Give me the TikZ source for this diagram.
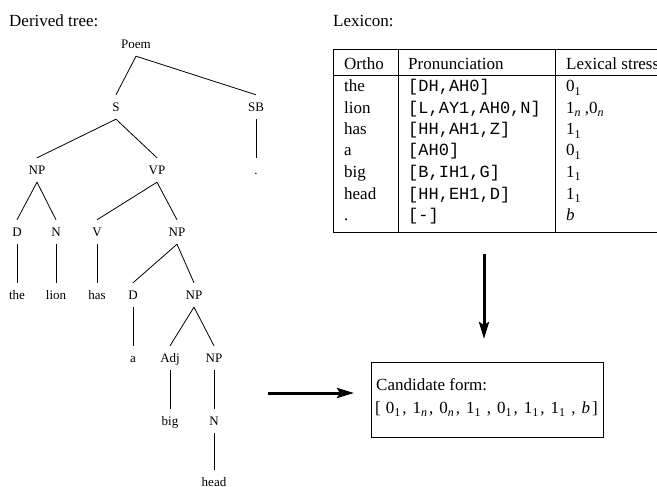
\documentclass[tikz,border=0pt]{standalone}
\usepackage{fontspec}
\setmainfont{Liberation Serif}
\setmonofont{Liberation Mono}
\usetikzlibrary{arrows.meta}
% lowered subscript in the text font
\newcommand\lowsub[1]{\raisebox{-3.5pt}{\fontsize{12}{12}\selectfont #1}}
% item separator in the candidate list
\newcommand\csep{,\hspace{6pt}}
\begin{document}
\begin{tikzpicture}[x=1pt,y=-1pt,
  tlab/.style={font=\fontsize{13}{15}\selectfont, inner sep=0pt,
               minimum height=24pt, text height=9pt, text depth=0pt},
  edge/.style={line width=0.8pt},
  txt/.style={font=\fontsize{17}{20}\selectfont, inner sep=0pt, anchor=base west},
  mono/.style={txt, font=\fontsize{17}{20}\selectfont\ttfamily},
  bigarrow/.style={line width=3pt, -{Stealth[length=17pt,width=10pt,inset=3pt]}},
  rule/.style={line width=0.9pt}]
\useasboundingbox (0,0) rectangle (657,487);
\clip (0,0) rectangle (657,487);

% headings
\node[txt] (htree) at (9,27) {Derived tree:};
\node[txt] (hlex) at (333,27) {Lexicon:};

% derived tree
\node[tlab] (poem) at (136,44) {Poem};
\node[tlab] (s)    at (116,107) {S};
\node[tlab] (sb)   at (256,107) {SB};
\node[tlab] (np1)  at (37,170) {NP};
\node[tlab] (vp)   at (157,170) {VP};
\node[tlab] (dot)  at (256,170) {.};
\node[tlab] (d1)   at (17,232) {D};
\node[tlab] (n1)   at (56,232) {N};
\node[tlab] (v)    at (97,232) {V};
\node[tlab] (np2)  at (177,232) {NP};
\node[tlab] (the)  at (17,295) {the};
\node[tlab] (lion) at (56,295) {lion};
\node[tlab] (has)  at (97,295) {has};
\node[tlab] (d2)   at (133,295) {D};
\node[tlab] (np3)  at (194,295) {NP};
\node[tlab] (a)    at (133,358) {a};
\node[tlab] (adj)  at (170,358) {Adj};
\node[tlab] (np4)  at (214,358) {NP};
\node[tlab] (big)  at (170,421) {big};
\node[tlab] (n2)   at (214,421) {N};
\node[tlab] (head) at (214,482) {head};

\foreach \p/\c in {poem/s, poem/sb, s/np1, s/vp, sb/dot, np1/d1, np1/n1,
                   vp/v, vp/np2, d1/the, n1/lion, v/has, np2/d2, np2/np3,
                   d2/a, np3/adj, np3/np4, adj/big, np4/n2, n2/head}
  \draw[edge] (\p.south) -- (\c.north);

% lexicon table
\draw[rule] (333,49) rectangle (700,232);
\draw[rule] (333,75) -- (700,75);
\draw[rule] (398,49) -- (398,232);
\draw[rule] (555,49) -- (555,232);

\node[txt] (h1) at (344,70) {Ortho};
\node[txt] (h2) at (408,70) {Pronunciation};
\node[txt] (h3) at (566,70) {Lexical stress};

\node[txt]  (o1) at (344,92)    {the};
\node[mono] (p1) at (408,92)    {[DH,AH0]};
\node[txt]  (l1) at (566,92)    {0\lowsub{1}};
\node[txt]  (o2) at (344,113.5) {lion};
\node[mono] (p2) at (408,113.5) {[L,AY1,AH0,N]};
\node[txt]  (l2) at (566,113.5) {1\lowsub{\textit{n}} ,0\lowsub{\textit{n}}};
\node[txt]  (o3) at (344,135)   {has};
\node[mono] (p3) at (408,135)   {[HH,AH1,Z]};
\node[txt]  (l3) at (566,135)   {1\lowsub{1}};
\node[txt]  (o4) at (344,156)   {a};
\node[mono] (p4) at (408,156)   {[AH0]};
\node[txt]  (l4) at (566,156)   {0\lowsub{1}};
\node[txt]  (o5) at (344,177.5) {big};
\node[mono] (p5) at (408,177.5) {[B,IH1,G]};
\node[txt]  (l5) at (566,177.5) {1\lowsub{1}};
\node[txt]  (o6) at (344,199)   {head};
\node[mono] (p6) at (408,199)   {[HH,EH1,D]};
\node[txt]  (l6) at (566,199)   {1\lowsub{1}};
\node[txt]  (o7) at (344,220)   {.};
\node[mono] (p7) at (408,220)   {[-]};
\node[txt]  (l7) at (566,220)   {\textit{b}};

% candidate form box
\node[draw, rule, minimum width=232pt, minimum height=75pt, inner sep=0pt]
  (cand) at (487,399.5) {};
\node[txt] (ctitle) at (376,390) {Candidate form:};
\node[txt] (clist) at (375,413)
  {[\hspace{5pt}0\lowsub{1}\kern2pt\csep 1\lowsub{\textit{n}}\kern2pt\csep
   0\lowsub{\textit{n}}\kern2pt\csep 1\lowsub{1}\kern2pt\ \csep
   0\lowsub{1}\kern2pt\csep 1\lowsub{1}\kern2pt\csep
   1\lowsub{1}\kern2pt\ \csep \textit{b}\kern2pt]};

% arrows
\coordinate (lexout) at (484,254);
\coordinate (candin) at (484,339);
\coordinate (treeout) at (268,393);
\coordinate (candleft) at (354,393);
\draw[bigarrow] (lexout) -- (candin);
\draw[bigarrow] (treeout) -- (candleft);
\end{tikzpicture}
\end{document}
